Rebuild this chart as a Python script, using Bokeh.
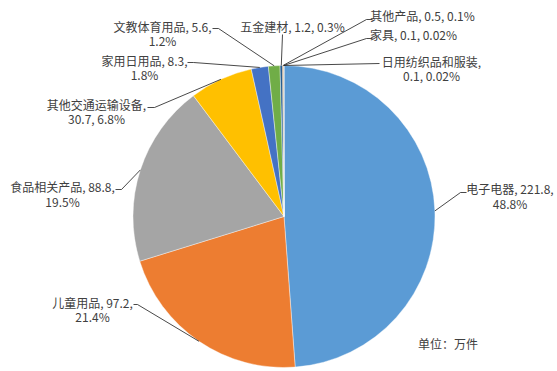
import math
from bokeh.plotting import figure
from bokeh.models import Range1d, ColumnDataSource
from bokeh.embed import file_html
from bokeh.resources import INLINE
from bokeh.core.properties import value

# ---------------- data ----------------
categories = ["电子电器", "儿童用品", "食品相关产品", "其他交通运输设备", "家用日用品",
              "文教体育用品", "五金建材", "其他产品", "家具", "日用纺织品和服装"]
amounts = [221.8, 97.2, 88.8, 30.7, 8.3, 5.6, 1.2, 0.5, 0.1, 0.1]
percent_labels = ["48.8%", "21.4%", "19.5%", "6.8%", "1.8%", "1.2%", "0.3%", "0.1%", "0.02%", "0.02%"]
unit_label = "单位：万件"

# ---------------- styles / layout ----------------
colors = ["#5B9BD5", "#ED7D31", "#A5A5A5", "#FFC000", "#4472C4",
          "#70AD47", "#255E91", "#9E480E", "#636363", "#997300"]
TEXT_COLOR = "#404040"
FONT = "Noto Sans CJK SC"
FSIZE = "12px"
W, H = 557, 371
PAGE_H = 371
CX, CY, R = 283.5, 216.0, 151.0   # pie centre / radius in screen px

# label layout: (mode, centre x, line-1 y, line-2 y, leader start, elbow)  in screen px
# mode 0: single line; 1: "name, amount," / "pct"; 2: "name," / "amount, pct"
label_layout = [
    (1, 509.5, 188, 203, (466, 192), (460, 192)),
    (1, 92, 302, 316, (133, 304), (137, 304)),
    (1, 62, 186, 201, (115, 189), (121, 189)),
    (2, 96, 104, 118, (147, 107), (154, 107)),
    (1, 144, 60, 74, (187, 62), (193, 62)),
    (1, 162, 26, 40, (212, 28), (218, 28)),
    (0, 292, 26, None, (282, 34), (282, 34)),
    (0, 422, 15, None, (372, 19), (366, 19)),
    (0, 413, 34, None, (372, 38), (366, 38)),
    (2, 431, 61, 75, (379, 63), (379, 63)),
]


def sy(y):
    """screen y (top-down) -> data y (bottom-up)"""
    return PAGE_H - y


p = figure(width=W, height=H, output_backend="svg", toolbar_location=None,
           x_range=Range1d(0, W), y_range=Range1d(sy(H), sy(0)),
           min_border=0, outline_line_color=None, background_fill_color="white")
p.axis.visible = False
p.xgrid.visible = False
p.ygrid.visible = False

# ---------------- wedges ----------------
total = sum(amounts)
starts, ends, mids = [], [], []
cum = 0.0
for a in amounts:
    f0 = cum / total
    cum += a
    f1 = cum / total
    starts.append(math.pi / 2 - 2 * math.pi * f0)
    ends.append(math.pi / 2 - 2 * math.pi * f1)
    mids.append(math.pi / 2 - 2 * math.pi * (f0 + f1) / 2)

src = ColumnDataSource(dict(start=starts, end=ends, color=colors))
p.wedge(x=CX, y=sy(CY), radius=R, start_angle="start", end_angle="end",
        direction="clock", fill_color="color", line_color="white", line_width=0.4,
        source=src)

# ---------------- leader lines & labels ----------------
tx, ty, tt = [], [], []
for i, (cat, amt, pct) in enumerate(zip(categories, amounts, percent_labels)):
    mode, cx, y1, y2, start, elbow = label_layout[i]
    ex = CX + R * math.cos(mids[i])
    ey = sy(CY) + R * math.sin(mids[i])
    p.line([start[0], elbow[0], ex], [sy(start[1]), sy(elbow[1]), ey],
           line_color="#1a1a1a", line_width=0.8)
    if mode == 0:
        lines = [f"{cat}, {amt}, {pct}"]
    elif mode == 1:
        lines = [f"{cat}, {amt},", pct]
    else:
        lines = [f"{cat},", f"{amt}, {pct}"]
    for j, txt in enumerate(lines):
        tx.append(cx)
        ty.append(sy(y1 if j == 0 else y2))
        tt.append(txt)

p.text(x=tx, y=ty, text=tt, text_align="center", text_baseline="middle",
       text_font=value(FONT), text_font_size=FSIZE, text_color=TEXT_COLOR)

p.text(x=[447.5], y=[sy(343)], text=[unit_label], text_align="center",
       text_baseline="middle", text_font=value(FONT), text_font_size=FSIZE,
       text_color=TEXT_COLOR)

open("out.html", "w").write(file_html(p, INLINE))
